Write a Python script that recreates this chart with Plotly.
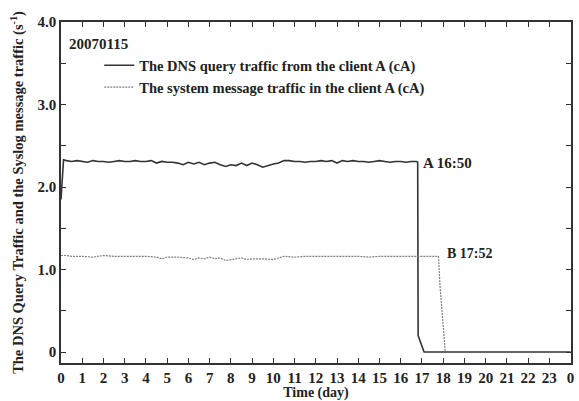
import plotly.graph_objects as go

# ---- data ----
dns_day = [0, 0.12, 0.25, 0.5, 0.75, 1.0, 1.25, 1.5, 1.75, 2.0, 2.25, 2.5, 2.75, 3.0, 3.25, 3.5, 3.75,
           4.0, 4.25, 4.5, 4.75, 5.0, 5.25, 5.5, 5.75, 6.0, 6.25, 6.5, 6.75, 7.0, 7.25, 7.5, 7.75,
           8.0, 8.25, 8.5, 8.75, 9.0, 9.25, 9.5, 9.75, 10.0, 10.25, 10.5, 10.75, 11.0, 11.25, 11.5,
           11.75, 12.0, 12.25, 12.5, 12.75, 13.0, 13.25, 13.5, 13.75, 14.0, 14.25, 14.5, 14.75, 15.0,
           15.25, 15.5, 15.75, 16.0, 16.25, 16.5, 16.75, 16.8, 16.82, 17.1, 24.0]
dns_rate = [1.85, 2.33, 2.32, 2.31, 2.32, 2.31, 2.30, 2.32, 2.31, 2.31, 2.30, 2.31, 2.32, 2.31, 2.31, 2.32, 2.31,
            2.31, 2.32, 2.29, 2.31, 2.30, 2.30, 2.29, 2.27, 2.30, 2.28, 2.30, 2.27, 2.29, 2.30, 2.27, 2.25,
            2.27, 2.26, 2.29, 2.26, 2.29, 2.27, 2.24, 2.26, 2.28, 2.29, 2.32, 2.32, 2.31, 2.31, 2.30,
            2.31, 2.31, 2.32, 2.31, 2.32, 2.29, 2.32, 2.31, 2.32, 2.31, 2.31, 2.30, 2.31, 2.32,
            2.31, 2.30, 2.31, 2.31, 2.30, 2.31, 2.31, 2.30, 0.20, 0.0, 0.0]

sys_day = [0, 0.25, 0.5, 1.0, 1.5, 2.0, 2.5, 3.0, 3.5, 4.0, 4.5, 4.75, 5.0, 5.5, 6.0, 6.25, 6.5, 6.75,
           7.0, 7.25, 7.5, 7.75, 8.0, 8.25, 8.5, 8.75, 9.0, 9.5, 10.0, 10.25, 10.5, 11.0, 11.5, 12.0,
           12.5, 13.0, 13.5, 14.0, 14.5, 15.0, 15.5, 16.0, 16.5, 17.0, 17.5, 17.78, 17.85, 18.1]
sys_rate = [1.17, 1.17, 1.16, 1.16, 1.15, 1.17, 1.16, 1.16, 1.16, 1.16, 1.15, 1.13, 1.15, 1.15, 1.14, 1.12, 1.14, 1.13,
            1.15, 1.13, 1.14, 1.11, 1.12, 1.13, 1.14, 1.12, 1.13, 1.13, 1.12, 1.14, 1.16, 1.15, 1.16, 1.16,
            1.16, 1.16, 1.16, 1.16, 1.15, 1.16, 1.16, 1.16, 1.16, 1.16, 1.16, 1.16, 0.80, 0.0]

x_ticks = list(range(0, 25))
x_labels = [str(d) for d in range(0, 24)] + ["0"]
y_ticks = [0, 1.0, 2.0, 3.0, 4.0]
y_labels = ["0", "1.0", "2.0", "3.0", "4.0"]

FONT = "Liberation Serif"
TXT = "#222"

fig = go.Figure()
fig.add_trace(go.Scatter(x=dns_day, y=dns_rate, mode="lines",
                         name="<b>The DNS query traffic from the client A (cA)</b>",
                         line=dict(color="#333333", width=1.6)))
fig.add_trace(go.Scatter(x=sys_day, y=sys_rate, mode="lines",
                         name="<b>The system message traffic in the client A (cA)</b>",
                         line=dict(color="#808080", width=1.2, dash="2px,1px")))

fig.add_annotation(x=0.012, y=0.935, xref="paper", yref="paper", text="<b>20070115</b>",
                   showarrow=False, xanchor="left", yanchor="middle",
                   font=dict(family=FONT, size=15, color=TXT))
fig.add_annotation(x=16.95, y=2.29, text="<b>A 16:50</b>", showarrow=False,
                   xanchor="left", yanchor="middle", font=dict(family=FONT, size=15, color=TXT))
fig.add_annotation(x=18.1, y=1.19, text="<b>B 17:52</b>", showarrow=False,
                   xanchor="left", yanchor="middle", font=dict(family=FONT, size=14, color=TXT))

axis_common = dict(showline=True, linecolor="#333", linewidth=1.5, mirror="ticks",
                   ticks="inside", ticklen=5, tickcolor="#333", tickwidth=1.2,
                   showgrid=False, zeroline=False, automargin=False,
                   tickfont=dict(family=FONT, size=15, color=TXT))

fig.update_xaxes(range=[0, 24.02], tickvals=x_ticks, ticktext=[f"<b>{t}</b>" for t in x_labels],
                 ticklabelstandoff=0, ticklabeloverflow="allow",
                 title=dict(text="<b>Time (day)</b>", font=dict(family=FONT, size=14, color=TXT),
                            standoff=0),
                 **axis_common)
fig.update_yaxes(range=[-0.133, 4.0], tickvals=y_ticks,
                 ticktext=[f"<b>{t}</b>" for t in y_labels],
                 minor=dict(ticks="inside", tick0=0, dtick=0.5, ticklen=5, tickcolor="#333",
                            tickwidth=1.2, showgrid=False),
                 title=dict(text="<b>The DNS Query Traffic and the Syslog message traffic (s<sup>-1</sup>)</b>",
                            font=dict(family=FONT, size=14.5, color=TXT), standoff=10),
                 **axis_common)

fig.update_layout(
    width=579, height=401,
    margin=dict(l=61, r=8, t=22, b=38),
    paper_bgcolor="white", plot_bgcolor="white",
    font=dict(family=FONT, color=TXT),
    showlegend=True,
    legend=dict(x=0.075, y=0.92, xanchor="left", yanchor="top",
                bgcolor="rgba(0,0,0,0)", borderwidth=0,
                font=dict(family=FONT, size=14.5, color=TXT),
                itemwidth=30, tracegroupgap=0),
)

# remove the default page margin so the 579x401 figure fills the window exactly
fig.write_html("out.html", config={"displayModeBar": False},
               post_script="document.body.style.margin='0';document.body.style.overflow='hidden';")
